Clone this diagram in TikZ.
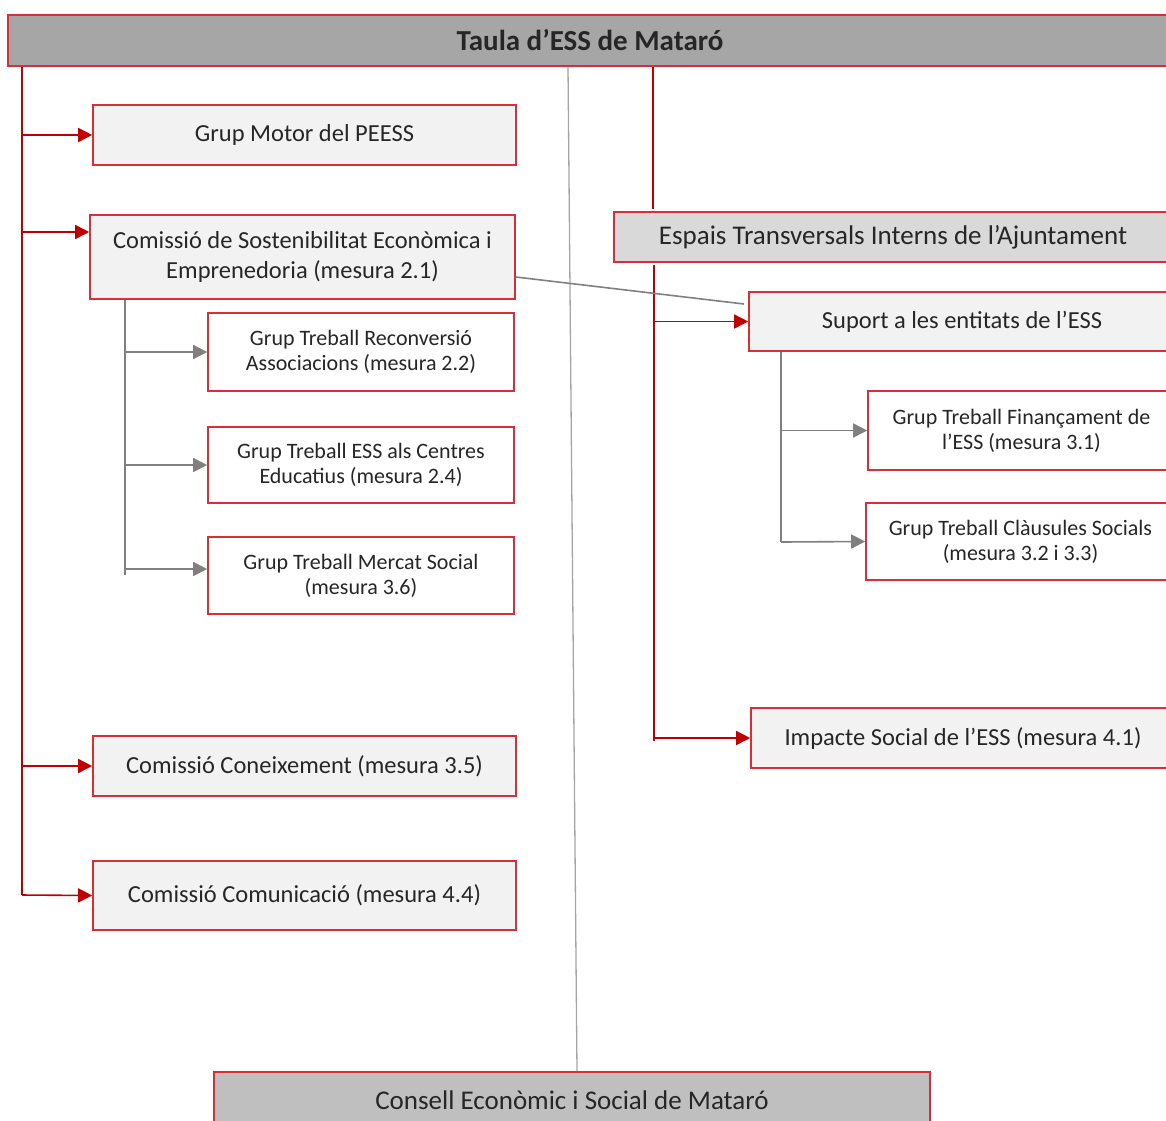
\documentclass[tikz,border=0pt]{standalone}
\usepackage{fontspec}
\setmainfont{Carlito}
\usetikzlibrary{arrows.meta}
\definecolor{vora}{RGB}{218,45,55}
\definecolor{granat}{RGB}{192,0,0}
\definecolor{linia}{RGB}{128,128,128}
\definecolor{liniaclara}{RGB}{165,165,165}
\definecolor{fonsclar}{RGB}{242,242,242}
\definecolor{fonstitol}{RGB}{166,166,166}
\definecolor{fonsespais}{RGB}{217,217,217}
\definecolor{fonsconsell}{RGB}{191,191,191}
\definecolor{lletra}{RGB}{38,38,38}
\begin{document}
\begin{tikzpicture}[x=1pt,y=-1pt,
		caixa/.style={draw=vora,line width=1.6pt,fill=fonsclar,inner sep=0pt,align=center,text=lletra,font=\fontsize{24.5}{30}\selectfont},
		grup/.style={caixa,fill=white,font=\fontsize{22}{25}\selectfont},
		fletxa/.style={draw=granat,line width=1.6pt,-{Triangle[length=14pt,width=14pt]}},
		branca/.style={draw=linia,line width=1.6pt,-{Triangle[length=14pt,width=14pt]}},
		tronc/.style={draw=granat,line width=1.6pt},
		gris/.style={draw=linia,line width=1.6pt}]
		\useasboundingbox (0,0) rectangle (1166,1120);
		\clip (0,0) rectangle (1166,1120);
		\node[caixa,fill=fonstitol,minimum width=1164pt,minimum height=51pt,font=\fontsize{29}{32}\bfseries] (titol) at (590,40.5) {Taula d’ESS de Mataró};
		\node[caixa,minimum width=423pt,minimum height=60pt] (motor) at (304.5,135) {Grup Motor del PEESS};
		\node[caixa,minimum width=425pt,minimum height=84pt] (sosten) at (302.5,257) {Comissió de Sostenibilitat Econòmica i\\Emprenedoria (mesura 2.1)};
		\node[grup,minimum width=306pt,minimum height=78pt] (reconv) at (361,352) {Grup Treball Reconversió\\Associacions (mesura 2.2)};
		\node[grup,minimum width=306pt,minimum height=76pt] (centres) at (361,465) {Grup Treball ESS als Centres\\Educatius (mesura 2.4)};
		\node[grup,minimum width=306pt,minimum height=77pt] (mercat) at (361,575.5) {Grup Treball Mercat Social\\(mesura 3.6)};
		\node[caixa,minimum width=423pt,minimum height=60pt] (coneix) at (304.5,766) {Comissió Coneixement (mesura 3.5)};
		\node[caixa,minimum width=423pt,minimum height=69pt] (comunic) at (304.5,895.5) {Comissió Comunicació (mesura 4.4)};
		\node[caixa,fill=fonsconsell,minimum width=716pt,minimum height=56pt,font=\fontsize{27}{30}\selectfont] (consell) at (572,1100) {Consell Econòmic i Social de Mataró};
		\node[caixa,fill=fonsespais,minimum width=558pt,minimum height=50pt,font=\fontsize{27}{30}\selectfont] (espais) at (893,237) {Espais Transversals Interns de l’Ajuntament};
		\node[caixa,minimum width=426pt,minimum height=59pt] (suport) at (962,321.5) {Suport a les entitats de l’ESS};
		\node[grup,minimum width=307pt,minimum height=79pt] (financ) at (1021.5,430.5) {Grup Treball Finançament de\\l’ESS (mesura 3.1)};
		\node[grup,minimum width=309pt,minimum height=77pt] (clausules) at (1020.5,541.5) {Grup Treball Clàusules Socials\\(mesura 3.2 i 3.3)};
		\node[caixa,minimum width=424pt,minimum height=60pt] (impacte) at (963,738) {Impacte Social de l’ESS (mesura 4.1)};
		\coordinate (busE) at (22,895);
		\coordinate (busD) at (654,741);
		\coordinate (busS) at (125,575);
		\coordinate (busP) at (781,542);
		\coordinate (diag) at (744,304);
		\draw[tronc] (titol.south -| busE) -- (busE);
		\draw[fletxa] (busE |- motor.west) -- (motor.west);
		\draw[fletxa] (busE |- 0,232) -- (sosten.west |- 0,232);
		\draw[fletxa] (busE |- coneix.west) -- (coneix.west);
		\draw[fletxa] (busE) -- (comunic.west);
		\draw[gris] (sosten.south -| busS) -- (busS);
		\draw[branca] (busS |- reconv.west) -- (reconv.west);
		\draw[branca] (busS |- centres.west) -- (centres.west);
		\draw[branca] (busS |- 0,569) -- (mercat.west |- 0,569);
		\draw[draw=liniaclara,line width=1.3pt] ([xshift=-22pt]titol.south) -- ([xshift=5pt]consell.north);
		\draw[tronc] (titol.south -| 653,0) -- ([yshift=2pt]espais.north -| 653,0);
		\draw[tronc] ([yshift=-2pt]espais.south -| busD) -- (busD);
		\draw[fletxa] (busD |- suport.west) -- (suport.west);
		\draw[fletxa] (busD |- impacte.west) -- (impacte.west);
		\draw[gris] (sosten.east |- 0,277) -- (diag);
		\draw[gris] (suport.south -| busP) -- (busP);
		\draw[branca] (busP |- financ.west) -- (financ.west);
		\draw[branca] (busP) -- (clausules.west);
	\end{tikzpicture}
\end{document}
